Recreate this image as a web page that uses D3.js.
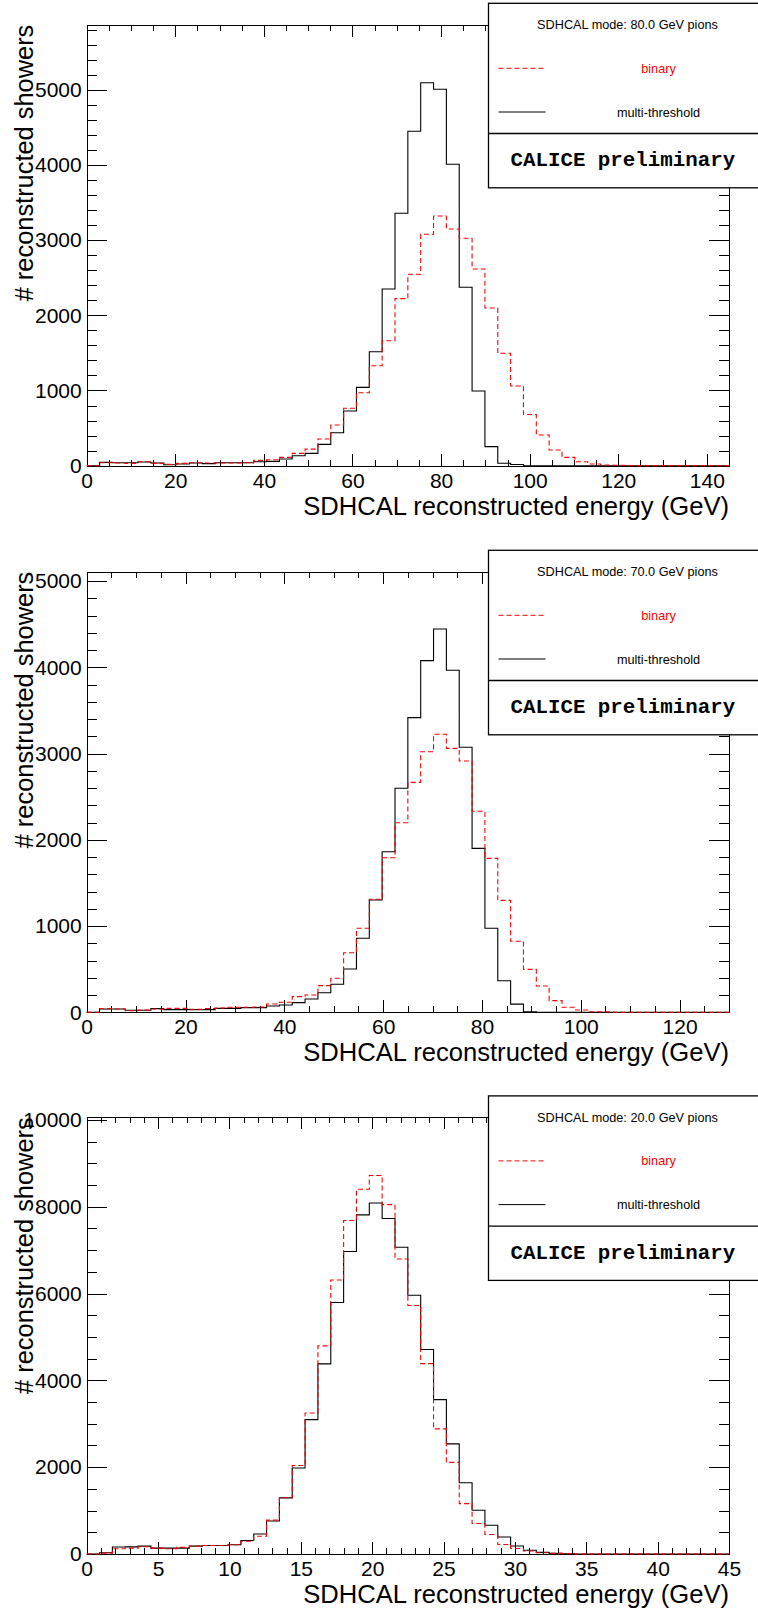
<!DOCTYPE html>
<html>
<head>
<meta charset="utf-8">
<script src="https://cdn.jsdelivr.net/npm/d3@7"></script>
<style>
  body { margin: 0; background: #fff; }
  svg { display: block; }
  .axis path, .axis line { stroke: #000; shape-rendering: crispEdges; }
  .axis text { font-family: "Liberation Sans", Arial, sans-serif; font-size: 21px; fill: #000; }
</style>
</head>
<body>
<script>
// canvas size
var w = 758;
var h = 1618;

// beam energies of the three runs
var beamEnergies = ["80.0", "70.0", "20.0"];

// upper edge of the energy axis (GeV), 50 bins each
var energyMax = [145, 130, 45];
// upper edge of the count axis
var countMax = [5864, 5108, 10061];

// labelled ticks
var xTicks80 = [0, 20, 40, 60, 80, 100, 120, 140];
var xTicks70 = [0, 20, 40, 60, 80, 100, 120];
var xTicks20 = [0, 5, 10, 15, 20, 25, 30, 35, 40, 45];
var yTicks80 = [0, 1000, 2000, 3000, 4000, 5000];
var yTicks70 = [0, 1000, 2000, 3000, 4000, 5000];
var yTicks20 = [0, 2000, 4000, 6000, 8000, 10000];
// minor tick step (x, y)
var minorX = [5, 5, 1];
var minorY = [200, 200, 500];

// bin contents, 80 GeV
var binary80 = [0, 40, 35, 31, 53, 31, 18, 31, 40, 35,
  35, 35, 40, 71, 80, 111, 164, 221, 355, 541,
  763, 971, 1330, 1662, 2221, 2545, 3077, 3320, 3148, 3024,
  2616, 2097, 1495, 1060, 680, 408, 209, 111, 53, 23,
  10, 5, 0, 0, 0, 0, 0, 0, 0, 0];
var multi80 = [0, 44, 40, 40, 49, 35, 13, 22, 35, 27,
  40, 40, 40, 53, 58, 89, 133, 164, 284, 439,
  727, 1042, 1516, 2350, 3356, 4447, 5093, 5005, 4008, 2372,
  993, 253, 32, 15, 0, 0, 0, 0, 0, 0,
  0, 0, 0, 0, 0, 0, 0, 0, 0, 0];

// bin contents, 70 GeV
var binary70 = [0, 43, 38, 19, 27, 38, 46, 46, 35, 43,
  50, 58, 58, 62, 97, 116, 182, 201, 309, 394,
  691, 974, 1310, 1792, 2198, 2666, 3021, 3223, 3060, 2913,
  2330, 1785, 1298, 823, 498, 305, 135, 58, 27, 6,
  5, 0, 0, 0, 0, 0, 0, 0, 0, 0];
var multi70 = [0, 38, 38, 23, 23, 43, 31, 31, 31, 31,
  46, 46, 54, 54, 73, 85, 112, 155, 226, 325,
  502, 858, 1302, 1862, 2597, 3416, 4077, 4443, 3965, 3072,
  1901, 974, 365, 95, 7, 0, 0, 0, 0, 0,
  0, 0, 0, 0, 0, 0, 0, 0, 0, 0];

// bin contents, 20 GeV
var binary20 = [0, 20, 121, 136, 167, 136, 121, 152, 182, 197,
  197, 212, 295, 409, 780, 1295, 2038, 3250, 4796, 6311,
  7682, 8402, 8720, 8050, 6798, 5725, 4386, 2883, 2110, 1160,
  704, 448, 220, 125, 69, 30, 15, 5, 0, 0,
  0, 0, 0, 0, 0, 0, 0, 0, 0, 0];
var multi20 = [0, 30, 163, 165, 182, 136, 136, 136, 182, 197,
  197, 212, 311, 462, 760, 1293, 1980, 3096, 4380, 5795,
  6970, 7813, 8087, 7730, 7068, 5960, 4713, 3557, 2537, 1640,
  1008, 662, 392, 186, 88, 38, 15, 5, 0, 0,
  0, 0, 0, 0, 0, 0, 0, 0, 0, 0];

var binarySets = [binary80, binary70, binary20];
var multiSets = [multi80, multi70, multi20];
var xTickSets = [xTicks80, xTicks70, xTicks20];
var yTickSets = [yTicks80, yTicks70, yTicks20];

// frame of each pad
var left = 86.7, right = 729;
var frames = [
  {top: 24.7, bottom: 465.7},
  {top: 571.7, bottom: 1012.3},
  {top: 1117.3, bottom: 1554}
];

var sans = "'Liberation Sans', Arial, sans-serif";

var svg = d3.select("body")
  .append("svg")
  .attr("width", w)
  .attr("height", h);

frames.forEach(function(f, p) {
  var x = d3.scaleLinear().domain([0, energyMax[p]]).range([left, right]);
  var y = d3.scaleLinear().domain([0, countMax[p]]).range([f.bottom, f.top]);
  var g = svg.append("g");

  var xMinor = d3.range(0, energyMax[p] + 1e-6, minorX[p]);
  var yMinor = d3.range(0, countMax[p], minorY[p]);

  // minor ticks on all four sides
  g.append("g").attr("class", "axis").attr("transform", "translate(0," + f.bottom + ")")
    .call(d3.axisBottom(x).tickValues(xMinor).tickSizeInner(-6).tickSizeOuter(0).tickFormat(""));
  g.append("g").attr("class", "axis").attr("transform", "translate(0," + f.top + ")")
    .call(d3.axisTop(x).tickValues(xMinor).tickSizeInner(-6).tickSizeOuter(0).tickFormat(""));
  g.append("g").attr("class", "axis").attr("transform", "translate(" + left + ",0)")
    .call(d3.axisLeft(y).tickValues(yMinor).tickSizeInner(-10).tickSizeOuter(0).tickFormat(""));
  g.append("g").attr("class", "axis").attr("transform", "translate(" + right + ",0)")
    .call(d3.axisRight(y).tickValues(yMinor).tickSizeInner(-10).tickSizeOuter(0).tickFormat(""));

  // major ticks + labels
  g.append("g").attr("class", "axis").attr("transform", "translate(0," + f.bottom + ")")
    .call(d3.axisBottom(x).tickValues(xTickSets[p]).tickSizeInner(-12).tickSizeOuter(0)
      .tickPadding(7).tickFormat(d3.format("d")));
  g.append("g").attr("class", "axis").attr("transform", "translate(0," + f.top + ")")
    .call(d3.axisTop(x).tickValues(xTickSets[p]).tickSizeInner(-12).tickSizeOuter(0).tickFormat(""));
  g.append("g").attr("class", "axis").attr("transform", "translate(" + left + ",0)")
    .call(d3.axisLeft(y).tickValues(yTickSets[p]).tickSizeInner(-20).tickSizeOuter(0)
      .tickPadding(5).tickFormat(d3.format("d")));
  g.append("g").attr("class", "axis").attr("transform", "translate(" + right + ",0)")
    .call(d3.axisRight(y).tickValues(yTickSets[p]).tickSizeInner(-20).tickSizeOuter(0).tickFormat(""));

  g.selectAll(".axis path.domain").style("stroke-width", 1.3);

  // histograms as step outlines
  var bw = energyMax[p] / 50;
  var step = d3.line()
    .x(function(d) { return x(d[0]); })
    .y(function(d) { return y(d[1]); })
    .curve(d3.curveStepAfter);
  function outline(vals) {
    var pts = vals.map(function(v, i) { return [i * bw, v]; });
    pts.push([vals.length * bw, vals[vals.length - 1]]);
    return pts;
  }

  g.append("path")
    .attr("d", step(outline(multiSets[p])))
    .style("fill", "none").style("stroke", "#000").style("stroke-width", 1.1);
  g.append("path")
    .attr("d", step(outline(binarySets[p])))
    .style("fill", "none").style("stroke", "#ff0000").style("stroke-width", 1.1)
    .style("stroke-dasharray", "5,3");

  // axis titles
  g.append("text")
    .attr("x", right).attr("y", f.bottom + 49)
    .attr("text-anchor", "end")
    .style("font-family", sans).style("font-size", "25.6px")
    .text("SDHCAL reconstructed energy (GeV)");
  g.append("text")
    .attr("transform", "translate(33," + f.top + ") rotate(-90)")
    .attr("text-anchor", "end")
    .style("font-family", sans).style("font-size", "25.4px")
    .text("# reconstructed showers");

  // legend box, sits over the top right corner of the frame
  var ly = f.top - 21.4;
  var lg = g.append("g").attr("transform", "translate(488.5," + ly + ")");
  lg.append("rect")
    .attr("x", 0).attr("y", 0).attr("width", 300).attr("height", 184.5)
    .style("fill", "#fff").style("stroke", "#000").style("stroke-width", 1.3);
  lg.append("line")
    .attr("x1", 0).attr("x2", 300).attr("y1", 130.2).attr("y2", 130.2)
    .style("stroke", "#000").style("stroke-width", 1.3);
  lg.append("text")
    .attr("x", 139).attr("y", 26).attr("text-anchor", "middle")
    .style("font-family", sans).style("font-size", "12.7px")
    .text("SDHCAL mode: " + beamEnergies[p] + " GeV pions");
  lg.append("line")
    .attr("x1", 10).attr("x2", 57).attr("y1", 65).attr("y2", 65)
    .style("stroke", "#ff0000").style("stroke-width", 1).style("stroke-dasharray", "5,3");
  lg.append("text")
    .attr("x", 170).attr("y", 69.4).attr("text-anchor", "middle")
    .style("font-family", sans).style("font-size", "12.7px").style("fill", "#ff0000")
    .text("binary");
  lg.append("line")
    .attr("x1", 10).attr("x2", 57).attr("y1", 108.7).attr("y2", 108.7)
    .style("stroke", "#000").style("stroke-width", 1);
  lg.append("text")
    .attr("x", 170).attr("y", 113.4).attr("text-anchor", "middle")
    .style("font-family", sans).style("font-size", "12.7px")
    .text("multi-threshold");
  lg.append("text")
    .attr("x", 22).attr("y", 163.2)
    .style("font-family", "'Liberation Mono', 'Courier New', monospace")
    .style("font-size", "20.8px").style("font-weight", "bold")
    .text("CALICE preliminary");
});
</script>
</body>
</html>
